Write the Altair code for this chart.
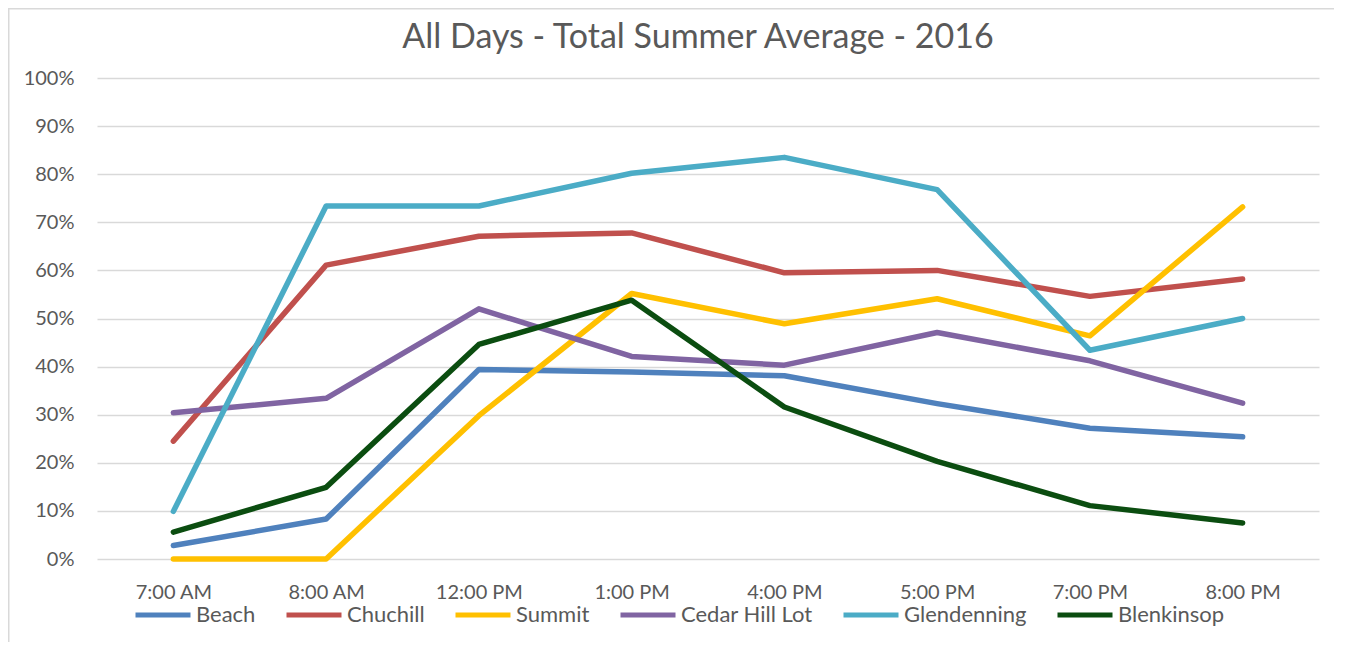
import altair as alt
import pandas as pd

times = ["7:00 AM", "8:00 AM", "12:00 PM", "1:00 PM", "4:00 PM", "5:00 PM", "7:00 PM", "8:00 PM"]
series_names = ["Beach", "Chuchill", "Summit", "Cedar Hill Lot", "Glendenning", "Blenkinsop"]
beach = [0.028, 0.083, 0.394, 0.389, 0.381, 0.323, 0.272, 0.254]
chuchill = [0.245, 0.611, 0.671, 0.678, 0.595, 0.600, 0.546, 0.582]
summit = [0.0, 0.0, 0.298, 0.552, 0.489, 0.541, 0.464, 0.732]
cedar = [0.304, 0.334, 0.520, 0.421, 0.403, 0.471, 0.412, 0.324]
glendenning = [0.099, 0.734, 0.734, 0.802, 0.835, 0.768, 0.434, 0.500]
blenkinsop = [0.056, 0.149, 0.446, 0.538, 0.316, 0.203, 0.111, 0.075]
y_ticks = [0.0, 0.1, 0.2, 0.3, 0.4, 0.5, 0.6, 0.7, 0.8, 0.9, 1.0]
colors = ["#4F81BD", "#C0504D", "#FFC000", "#8064A2", "#4BACC6", "#0B4D10"]

all_values = [beach, chuchill, summit, cedar, glendenning, blenkinsop]
rows = []
for name, vals in zip(series_names, all_values):
    for t, v in zip(times, vals):
        rows.append({"time": t, "series": name, "value": v})
df = pd.DataFrame(rows)

W, H = 1222, 481
PL, PT, PR, PB = 89, 70, 21, 83
FONT = "Lato"
TXT = "#595959"
one = pd.DataFrame({"k": [0]})

frame_left = alt.Chart(one).mark_rect(fill="#D9D9D9", stroke=None).encode(
    x=alt.value(-PL), x2=alt.value(-PL + 1.5), y=alt.value(-PT), y2=alt.value(H + PB)
)
frame_top = alt.Chart(one).mark_rect(fill="#D9D9D9", stroke=None).encode(
    x=alt.value(-PL), x2=alt.value(W + PR - 6), y=alt.value(-PT), y2=alt.value(-PT + 1.5)
)

lines = alt.Chart(df).mark_line(strokeWidth=5.5, strokeCap="round", strokeJoin="round").encode(
    x=alt.X("time:N", sort=times, title=None,
            scale=alt.Scale(paddingInner=0, paddingOuter=0.5, padding=0.5),
            axis=alt.Axis(labelAngle=0, ticks=False, domain=False, grid=False,
                          labelFont=FONT, labelFontSize=20, labelColor=TXT, labelPadding=23)),
    y=alt.Y("value:Q", title=None,
            scale=alt.Scale(domain=[0, 1], nice=False),
            axis=alt.Axis(format=".0%", values=y_ticks, labelOverlap=False,
                          ticks=False, domain=False, gridColor="#D9D9D9", gridWidth=1.5,
                          labelFont=FONT, labelFontSize=20, labelColor=TXT, labelPadding=23)),
    color=alt.Color("series:N", sort=series_names,
                    scale=alt.Scale(domain=series_names, range=colors),
                    legend=alt.Legend(orient="none", direction="horizontal", columns=6,
                                      legendX=36, legendY=507, title=None,
                                      symbolType="stroke", symbolSize=3025, symbolStrokeWidth=5,
                                      labelFont=FONT, labelFontSize=22, labelColor=TXT,
                                      labelOffset=3, columnPadding=20)),
    detail="series:N",
)

chart = alt.layer(frame_left, frame_top, lines).properties(
    width=W, height=H,
    autosize=alt.AutoSizeParams(type="none"),
    padding={"left": PL, "top": PT, "right": PR, "bottom": PB},
    title=alt.TitleParams("All Days - Total Summer Average - 2016", font=FONT, fontSize=34,
                          fontWeight="normal", color=TXT, anchor="middle", offset=-47, dx=-10),
).configure_view(stroke=None)

chart.save("out.html", embed_options={"renderer": "svg", "actions": False})
